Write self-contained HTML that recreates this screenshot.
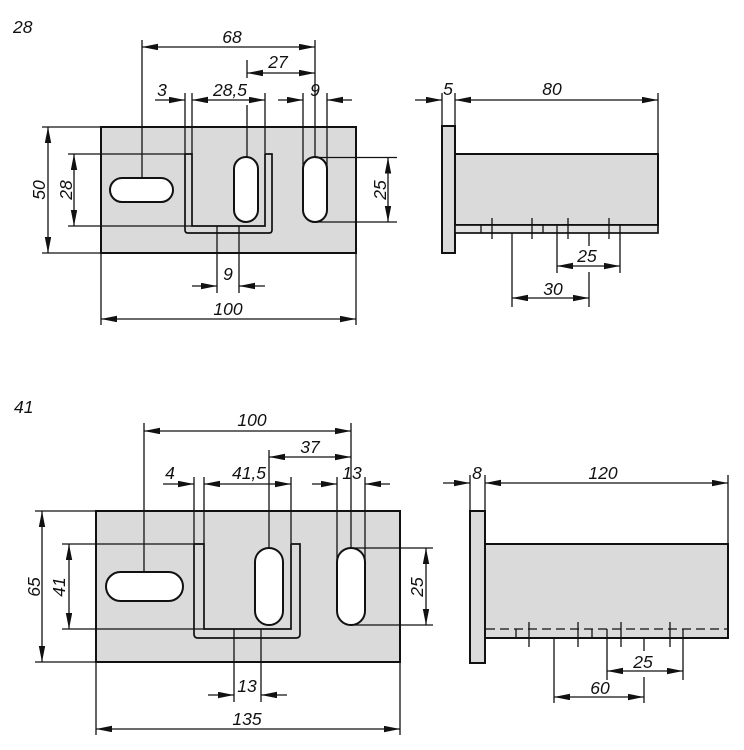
<!DOCTYPE html>
<html><head><meta charset="utf-8">
<style>
html,body{margin:0;padding:0;background:#fff;}
svg{display:block;}
text{font-family:"Liberation Sans",sans-serif;font-style:italic;font-size:17.5px;fill:#111;}
</style></head>
<body>
<svg width="744" height="750" viewBox="0 0 744 750" xmlns="http://www.w3.org/2000/svg">
<defs>
<marker id="a" markerUnits="userSpaceOnUse" markerWidth="17" markerHeight="7" refX="16" refY="3.2" orient="auto-start-reverse">
<path d="M0,0 L16,3.2 L0,6.4 z" fill="#111"/>
</marker>
</defs>

<!-- ================= TOP LEFT ================= -->
<text x="13" y="33">28</text>
<rect x="101" y="127" width="255" height="126" fill="#dadada" stroke="#111" stroke-width="2"/>
<rect x="110" y="178" width="63" height="24" rx="12" fill="#fff" stroke="#111" stroke-width="2"/>
<rect x="234" y="157" width="24" height="65" rx="12" fill="#fff" stroke="#111" stroke-width="2"/>
<rect x="303" y="157" width="24" height="65" rx="12" fill="#fff" stroke="#111" stroke-width="2"/>
<g fill="none" stroke="#111" stroke-width="1.7">
<path d="M185,154 L185,230 Q185,233 188,233 L269,233 Q272,233 272,230 L272,154 L265,154"/>
<path d="M185,154 L192,154 L192,226 L265,226 L265,154"/>
</g>
<g fill="none" stroke="#111" stroke-width="1.3">
<path d="M142,40 V178 M315,40 V157 M247,60 V78 M247,105 V157"/>
<path d="M185,93 V154 M192,93 V154 M265,93 V154"/>
<path d="M303,93 V169 M327,93 V169"/>
<path d="M68,154 H185 M68,226 H192"/>
<path d="M42,127 H101 M42,253 H101"/>
<path d="M315,157.5 H397 M317,222 H397"/>
<path d="M217,226 V293 M239,226 V293"/>
<path d="M101,253 V325 M356,253 V325"/>
<line x1="142" y1="47" x2="315" y2="47" marker-start="url(#a)" marker-end="url(#a)"/>
<line x1="247" y1="73" x2="315" y2="73" marker-start="url(#a)" marker-end="url(#a)"/>
<line x1="155" y1="100" x2="185" y2="100" marker-end="url(#a)"/>
<line x1="192" y1="100" x2="265" y2="100" marker-start="url(#a)" marker-end="url(#a)"/>
<line x1="278" y1="100" x2="303" y2="100" marker-end="url(#a)"/>
<line x1="352" y1="100" x2="327" y2="100" marker-end="url(#a)"/>
<line x1="74" y1="154" x2="74" y2="226" marker-start="url(#a)" marker-end="url(#a)"/>
<line x1="48" y1="127" x2="48" y2="253" marker-start="url(#a)" marker-end="url(#a)"/>
<line x1="388" y1="157.5" x2="388" y2="222" marker-start="url(#a)" marker-end="url(#a)"/>
<line x1="192" y1="286" x2="217" y2="286" marker-end="url(#a)"/>
<line x1="265" y1="286" x2="239" y2="286" marker-end="url(#a)"/>
<line x1="101" y1="319" x2="356" y2="319" marker-start="url(#a)" marker-end="url(#a)"/>
</g>
<text x="232" y="43" text-anchor="middle">68</text>
<text x="278" y="68" text-anchor="middle">27</text>
<text x="162" y="96" text-anchor="middle">3</text>
<text x="230" y="96" text-anchor="middle">28,5</text>
<text x="315" y="96" text-anchor="middle">9</text>
<text x="228" y="280" text-anchor="middle">9</text>
<text x="228" y="315" text-anchor="middle">100</text>
<text transform="translate(45,190) rotate(-90)" text-anchor="middle">50</text>
<text transform="translate(72,190) rotate(-90)" text-anchor="middle">28</text>
<text transform="translate(386,190) rotate(-90)" text-anchor="middle">25</text>

<!-- ================= TOP RIGHT ================= -->
<rect x="442" y="126" width="13" height="127" fill="#dadada" stroke="#111" stroke-width="2"/>
<rect x="455" y="154" width="203" height="71" fill="#dadada" stroke="#111" stroke-width="2"/>
<rect x="455" y="225" width="203" height="8" fill="#e2e2e2" stroke="#111" stroke-width="1.7"/>
<g fill="none" stroke="#111" stroke-width="1.3">
<path d="M492,218 V239 M532,218 V239 M568,218 V239 M609,218 V239"/>
<path d="M481,225 V233 M543,225 V233"/>
<path d="M442,93 V126 M455,93 V126 M658,93 V154"/>
<path d="M512,233 V307 M589,233 V246 M589,272 V307"/>
<path d="M557,225 V273 M620,225 V273"/>
<line x1="415" y1="100" x2="442" y2="100" marker-end="url(#a)"/>
<line x1="455" y1="100" x2="658" y2="100" marker-start="url(#a)" marker-end="url(#a)"/>
<line x1="557" y1="266" x2="620" y2="266" marker-start="url(#a)" marker-end="url(#a)"/>
<line x1="512" y1="298" x2="589" y2="298" marker-start="url(#a)" marker-end="url(#a)"/>
</g>
<text x="448" y="95" text-anchor="middle">5</text>
<text x="552" y="95" text-anchor="middle">80</text>
<text x="587" y="262" text-anchor="middle">25</text>
<text x="553" y="295" text-anchor="middle">30</text>

<!-- ================= BOTTOM LEFT ================= -->
<text x="14" y="413">41</text>
<rect x="96" y="511" width="304" height="151" fill="#dadada" stroke="#111" stroke-width="2"/>
<rect x="106" y="572" width="77" height="29" rx="14.5" fill="#fff" stroke="#111" stroke-width="2"/>
<rect x="255" y="548" width="28" height="77" rx="14" fill="#fff" stroke="#111" stroke-width="2"/>
<rect x="337" y="548" width="28" height="77" rx="14" fill="#fff" stroke="#111" stroke-width="2"/>
<g fill="none" stroke="#111" stroke-width="1.7">
<path d="M194,544 L194,634 Q194,638 198,638 L296,638 Q300,638 300,634 L300,544 L291,544"/>
<path d="M194,544 L204,544 L204,629 L291,629 L291,544"/>
</g>
<g fill="none" stroke="#111" stroke-width="1.3">
<path d="M144,423 V572 M351,423 V548 M269,450 V548"/>
<path d="M194,477 V544 M204,477 V544 M291,477 V544"/>
<path d="M337,477 V562 M365,477 V562"/>
<path d="M351,548 H433 M351,625 H433"/>
<path d="M35,511 H96 M35,662 H96"/>
<path d="M62,544 H204 M62,629 H204"/>
<path d="M234,629 V702 M261,629 V702"/>
<path d="M96,662 V735 M400,662 V735"/>
<line x1="144" y1="431" x2="351" y2="431" marker-start="url(#a)" marker-end="url(#a)"/>
<line x1="269" y1="457" x2="351" y2="457" marker-start="url(#a)" marker-end="url(#a)"/>
<line x1="163" y1="484" x2="194" y2="484" marker-end="url(#a)"/>
<line x1="204" y1="484" x2="291" y2="484" marker-start="url(#a)" marker-end="url(#a)"/>
<line x1="312" y1="484" x2="337" y2="484" marker-end="url(#a)"/>
<line x1="390" y1="484" x2="365" y2="484" marker-end="url(#a)"/>
<line x1="426" y1="548" x2="426" y2="625" marker-start="url(#a)" marker-end="url(#a)"/>
<line x1="42" y1="511" x2="42" y2="662" marker-start="url(#a)" marker-end="url(#a)"/>
<line x1="69" y1="544" x2="69" y2="629" marker-start="url(#a)" marker-end="url(#a)"/>
<line x1="208" y1="695" x2="234" y2="695" marker-end="url(#a)"/>
<line x1="287" y1="695" x2="261" y2="695" marker-end="url(#a)"/>
<line x1="96" y1="729" x2="400" y2="729" marker-start="url(#a)" marker-end="url(#a)"/>
</g>
<text x="252" y="426" text-anchor="middle">100</text>
<text x="310" y="453" text-anchor="middle">37</text>
<text x="170" y="479" text-anchor="middle">4</text>
<text x="249" y="479" text-anchor="middle">41,5</text>
<text x="352" y="479" text-anchor="middle">13</text>
<text x="247" y="692" text-anchor="middle">13</text>
<text x="247" y="725" text-anchor="middle">135</text>
<text transform="translate(40,587) rotate(-90)" text-anchor="middle">65</text>
<text transform="translate(65,587) rotate(-90)" text-anchor="middle">41</text>
<text transform="translate(423,587) rotate(-90)" text-anchor="middle">25</text>

<!-- ================= BOTTOM RIGHT ================= -->
<rect x="470" y="511" width="15" height="152" fill="#dadada" stroke="#111" stroke-width="2"/>
<rect x="485" y="544" width="243" height="94" fill="#dadada" stroke="#111" stroke-width="2"/>
<g fill="none" stroke="#111" stroke-width="1.3">
<line x1="486" y1="629" x2="727" y2="629" stroke-dasharray="9,5"/>
<path d="M529,622 V647 M578,622 V647 M621,622 V647 M670,622 V647"/>
<path d="M516,629 V638 M592,629 V638"/>
<path d="M470,475 V511 M485,475 V511 M728,475 V544"/>
<path d="M554,638 V703 M644,638 V651 M644,677 V703"/>
<path d="M607,629 V680 M683,629 V680"/>
<line x1="443" y1="483" x2="470" y2="483" marker-end="url(#a)"/>
<line x1="485" y1="483" x2="728" y2="483" marker-start="url(#a)" marker-end="url(#a)"/>
<line x1="607" y1="671" x2="683" y2="671" marker-start="url(#a)" marker-end="url(#a)"/>
<line x1="554" y1="697" x2="644" y2="697" marker-start="url(#a)" marker-end="url(#a)"/>
</g>
<text x="477" y="479" text-anchor="middle">8</text>
<text x="603" y="479" text-anchor="middle">120</text>
<text x="643" y="668" text-anchor="middle">25</text>
<text x="600" y="694" text-anchor="middle">60</text>
</svg>
</body></html>
